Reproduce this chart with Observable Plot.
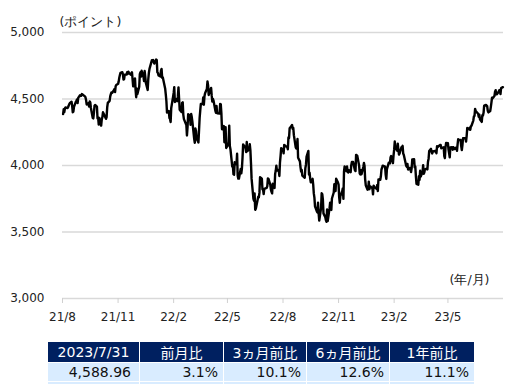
<!DOCTYPE html>
<html><head><meta charset="utf-8">
<script src="https://cdn.jsdelivr.net/npm/d3@7"></script>
<script src="https://cdn.jsdelivr.net/npm/@observablehq/plot@0.6"></script>
<style>
html,body{margin:0;padding:0;background:#fff;}
body{width:529px;height:387px;position:relative;overflow:hidden;font-family:"DejaVu Sans","Noto Sans CJK JP",sans-serif;}
#chart{position:absolute;left:0;top:0;}
#tbl{position:absolute;left:47px;top:341px;border-collapse:separate;border-spacing:1px 1px;font-size:14px;table-layout:fixed;width:428px;}
#tbl th{background:#002060;color:#fff;font-weight:normal;height:20px;padding:0;text-align:center;box-sizing:border-box;}
#tbl td{background:#d9ecff;color:#111;height:18px;padding:0 5px 0 0;text-align:right;box-sizing:border-box;}
#tbl td.first{padding-right:8px;}
#tbl tr.strip td{height:2px;line-height:2px;font-size:1px;padding:0;}
</style>
</head><body>
<div id="chart"></div>
<table id="tbl"><colgroup id="cols"></colgroup><tr id="hdr"></tr><tr id="vals"></tr><tr class="strip" id="strip"></tr></table>
<script>
// S&P 500 daily closes
const sp500 = [
["2021-08-02",4387],["2021-08-03",4423],["2021-08-04",4402],["2021-08-05",4429],["2021-08-06",4437],["2021-08-09",4432],["2021-08-10",4436],["2021-08-11",4447],["2021-08-12",4460],["2021-08-13",4468],["2021-08-16",4479],["2021-08-17",4448],["2021-08-18",4400],["2021-08-19",4405],["2021-08-20",4441],["2021-08-23",4479],["2021-08-24",4486],["2021-08-25",4496],["2021-08-26",4470],["2021-08-27",4509],["2021-08-30",4529],["2021-08-31",4523],
["2021-09-01",4524],["2021-09-02",4537],["2021-09-03",4535],["2021-09-07",4520],["2021-09-08",4514],["2021-09-09",4493],["2021-09-10",4459],["2021-09-13",4469],["2021-09-14",4443],["2021-09-15",4481],["2021-09-16",4474],["2021-09-17",4433],["2021-09-20",4358],["2021-09-21",4354],["2021-09-22",4396],["2021-09-23",4449],["2021-09-24",4455],["2021-09-27",4443],["2021-09-28",4353],["2021-09-29",4360],["2021-09-30",4308],
["2021-10-01",4357],["2021-10-04",4300],["2021-10-05",4346],["2021-10-06",4364],["2021-10-07",4400],["2021-10-08",4391],["2021-10-11",4361],["2021-10-12",4351],["2021-10-13",4364],["2021-10-14",4438],["2021-10-15",4471],["2021-10-18",4486],["2021-10-19",4520],["2021-10-20",4537],["2021-10-21",4549],["2021-10-22",4545],["2021-10-25",4567],["2021-10-26",4575],["2021-10-27",4552],["2021-10-28",4596],["2021-10-29",4605],
["2021-11-01",4614],["2021-11-02",4631],["2021-11-03",4660],["2021-11-04",4680],["2021-11-05",4697],["2021-11-08",4702],["2021-11-09",4685],["2021-11-10",4646],["2021-11-11",4649],["2021-11-12",4683],["2021-11-15",4683],["2021-11-16",4701],["2021-11-17",4689],["2021-11-18",4705],["2021-11-19",4698],["2021-11-22",4682],["2021-11-23",4691],["2021-11-24",4701],["2021-11-26",4595],["2021-11-29",4655],["2021-11-30",4567],
["2021-12-01",4513],["2021-12-02",4577],["2021-12-03",4538],["2021-12-06",4592],["2021-12-07",4687],["2021-12-08",4701],["2021-12-09",4668],["2021-12-10",4712],["2021-12-13",4669],["2021-12-14",4635],["2021-12-15",4710],["2021-12-16",4669],["2021-12-17",4621],["2021-12-20",4568],["2021-12-21",4649],["2021-12-22",4697],["2021-12-23",4726],["2021-12-27",4792],["2021-12-28",4786],["2021-12-29",4793],["2021-12-30",4778],["2021-12-31",4766],
["2022-01-03",4797],["2022-01-04",4794],["2022-01-05",4701],["2022-01-06",4696],["2022-01-07",4677],["2022-01-10",4670],["2022-01-11",4713],["2022-01-12",4726],["2022-01-13",4659],["2022-01-14",4663],["2022-01-18",4577],["2022-01-19",4533],["2022-01-20",4483],["2022-01-21",4398],["2022-01-24",4410],["2022-01-25",4357],["2022-01-26",4350],["2022-01-27",4327],["2022-01-28",4432],["2022-01-31",4516],
["2022-02-01",4546],["2022-02-02",4589],["2022-02-03",4477],["2022-02-04",4501],["2022-02-07",4484],["2022-02-08",4521],["2022-02-09",4587],["2022-02-10",4504],["2022-02-11",4419],["2022-02-14",4402],["2022-02-15",4471],["2022-02-16",4475],["2022-02-17",4381],["2022-02-18",4349],["2022-02-22",4305],["2022-02-23",4226],["2022-02-24",4288],["2022-02-25",4385],["2022-02-28",4374],
["2022-03-01",4306],["2022-03-02",4387],["2022-03-03",4364],["2022-03-04",4329],["2022-03-07",4201],["2022-03-08",4171],["2022-03-09",4278],["2022-03-10",4260],["2022-03-11",4204],["2022-03-14",4173],["2022-03-15",4263],["2022-03-16",4358],["2022-03-17",4412],["2022-03-18",4463],["2022-03-21",4462],["2022-03-22",4512],["2022-03-23",4457],["2022-03-24",4520],["2022-03-25",4543],["2022-03-28",4576],["2022-03-29",4632],["2022-03-30",4603],["2022-03-31",4530],
["2022-04-01",4546],["2022-04-04",4583],["2022-04-05",4525],["2022-04-06",4481],["2022-04-07",4500],["2022-04-08",4488],["2022-04-11",4413],["2022-04-12",4397],["2022-04-13",4447],["2022-04-14",4393],["2022-04-18",4391],["2022-04-19",4463],["2022-04-20",4460],["2022-04-21",4394],["2022-04-22",4272],["2022-04-25",4297],["2022-04-26",4175],["2022-04-27",4184],["2022-04-28",4288],["2022-04-29",4132],
["2022-05-02",4155],["2022-05-03",4175],["2022-05-04",4300],["2022-05-05",4147],["2022-05-06",4123],["2022-05-09",3991],["2022-05-10",4001],["2022-05-11",3935],["2022-05-12",3930],["2022-05-13",4024],["2022-05-16",4008],["2022-05-17",4088],["2022-05-18",3923],["2022-05-19",3901],["2022-05-20",3901],["2022-05-23",3974],["2022-05-24",3941],["2022-05-25",3979],["2022-05-26",4058],["2022-05-27",4158],["2022-05-31",4132],
["2022-06-01",4101],["2022-06-02",4177],["2022-06-03",4109],["2022-06-06",4121],["2022-06-07",4161],["2022-06-08",4116],["2022-06-09",4018],["2022-06-10",3901],["2022-06-13",3750],["2022-06-14",3735],["2022-06-15",3790],["2022-06-16",3667],["2022-06-17",3675],["2022-06-21",3765],["2022-06-22",3760],["2022-06-23",3796],["2022-06-24",3912],["2022-06-27",3901],["2022-06-28",3821],["2022-06-29",3819],["2022-06-30",3785],
["2022-07-01",3825],["2022-07-05",3832],["2022-07-06",3845],["2022-07-07",3903],["2022-07-08",3899],["2022-07-11",3855],["2022-07-12",3819],["2022-07-13",3802],["2022-07-14",3790],["2022-07-15",3863],["2022-07-18",3831],["2022-07-19",3937],["2022-07-20",3960],["2022-07-21",3999],["2022-07-22",3962],["2022-07-25",3967],["2022-07-26",3921],["2022-07-27",4024],["2022-07-28",4072],["2022-07-29",4130],
["2022-08-01",4119],["2022-08-02",4091],["2022-08-03",4155],["2022-08-04",4152],["2022-08-05",4145],["2022-08-08",4140],["2022-08-09",4122],["2022-08-10",4210],["2022-08-11",4207],["2022-08-12",4280],["2022-08-15",4297],["2022-08-16",4305],["2022-08-17",4275],["2022-08-18",4284],["2022-08-19",4228],["2022-08-22",4138],["2022-08-23",4128],["2022-08-24",4141],["2022-08-25",4199],["2022-08-26",4058],["2022-08-29",4031],["2022-08-30",3986],["2022-08-31",3955],
["2022-09-01",3967],["2022-09-02",3924],["2022-09-06",3908],["2022-09-07",3980],["2022-09-08",4006],["2022-09-09",4067],["2022-09-12",4110],["2022-09-13",3932],["2022-09-14",3946],["2022-09-15",3901],["2022-09-16",3873],["2022-09-19",3900],["2022-09-20",3856],["2022-09-21",3790],["2022-09-22",3758],["2022-09-23",3693],["2022-09-26",3655],["2022-09-27",3647],["2022-09-28",3720],["2022-09-29",3640],["2022-09-30",3586],
["2022-10-03",3679],["2022-10-04",3791],["2022-10-05",3784],["2022-10-06",3745],["2022-10-07",3640],["2022-10-10",3612],["2022-10-11",3589],["2022-10-12",3577],["2022-10-13",3670],["2022-10-14",3583],["2022-10-17",3677],["2022-10-18",3720],["2022-10-19",3695],["2022-10-20",3666],["2022-10-21",3752],["2022-10-24",3797],["2022-10-25",3860],["2022-10-26",3831],["2022-10-27",3808],["2022-10-28",3901],["2022-10-31",3872],
["2022-11-01",3856],["2022-11-02",3760],["2022-11-03",3720],["2022-11-04",3771],["2022-11-07",3807],["2022-11-08",3828],["2022-11-09",3749],["2022-11-10",3956],["2022-11-11",3993],["2022-11-14",3957],["2022-11-15",3992],["2022-11-16",3959],["2022-11-17",3947],["2022-11-18",3965],["2022-11-21",3950],["2022-11-22",4003],["2022-11-23",4027],["2022-11-25",4026],["2022-11-28",3964],["2022-11-29",3958],["2022-11-30",4080],
["2022-12-01",4077],["2022-12-02",4072],["2022-12-05",3999],["2022-12-06",3941],["2022-12-07",3933],["2022-12-08",3964],["2022-12-09",3934],["2022-12-12",3991],["2022-12-13",4019],["2022-12-14",3996],["2022-12-15",3896],["2022-12-16",3852],["2022-12-19",3818],["2022-12-20",3821],["2022-12-21",3879],["2022-12-22",3822],["2022-12-23",3845],["2022-12-27",3829],["2022-12-28",3783],["2022-12-29",3849],["2022-12-30",3840],
["2023-01-03",3824],["2023-01-04",3853],["2023-01-05",3808],["2023-01-06",3895],["2023-01-09",3893],["2023-01-10",3919],["2023-01-11",3970],["2023-01-12",3983],["2023-01-13",3999],["2023-01-17",3991],["2023-01-18",3929],["2023-01-19",3899],["2023-01-20",3972],["2023-01-23",4020],["2023-01-24",4017],["2023-01-25",4016],["2023-01-26",4060],["2023-01-27",4071],["2023-01-30",4018],["2023-01-31",4077],
["2023-02-01",4119],["2023-02-02",4180],["2023-02-03",4136],["2023-02-06",4111],["2023-02-07",4164],["2023-02-08",4118],["2023-02-09",4082],["2023-02-10",4090],["2023-02-13",4137],["2023-02-14",4136],["2023-02-15",4148],["2023-02-16",4090],["2023-02-17",4079],["2023-02-21",3997],["2023-02-22",3991],["2023-02-23",4012],["2023-02-24",3970],["2023-02-27",3982],["2023-02-28",3970],
["2023-03-01",3951],["2023-03-02",3981],["2023-03-03",4046],["2023-03-06",4048],["2023-03-07",3986],["2023-03-08",3992],["2023-03-09",3918],["2023-03-10",3862],["2023-03-13",3855],["2023-03-14",3920],["2023-03-15",3892],["2023-03-16",3960],["2023-03-17",3917],["2023-03-20",3952],["2023-03-21",4003],["2023-03-22",3937],["2023-03-23",3949],["2023-03-24",3971],["2023-03-27",3977],["2023-03-28",3971],["2023-03-29",4028],["2023-03-30",4051],["2023-03-31",4109],
["2023-04-03",4125],["2023-04-04",4101],["2023-04-05",4091],["2023-04-06",4105],["2023-04-10",4109],["2023-04-11",4108],["2023-04-12",4092],["2023-04-13",4146],["2023-04-14",4138],["2023-04-17",4151],["2023-04-18",4154],["2023-04-19",4155],["2023-04-20",4130],["2023-04-21",4133],["2023-04-24",4137],["2023-04-25",4071],["2023-04-26",4056],["2023-04-27",4136],["2023-04-28",4169],
["2023-05-01",4167],["2023-05-02",4120],["2023-05-03",4091],["2023-05-04",4061],["2023-05-05",4136],["2023-05-08",4138],["2023-05-09",4119],["2023-05-10",4138],["2023-05-11",4131],["2023-05-12",4124],["2023-05-15",4136],["2023-05-16",4110],["2023-05-17",4159],["2023-05-18",4198],["2023-05-19",4192],["2023-05-22",4193],["2023-05-23",4146],["2023-05-24",4116],["2023-05-25",4151],["2023-05-26",4205],["2023-05-30",4206],["2023-05-31",4180],
["2023-06-01",4221],["2023-06-02",4282],["2023-06-05",4273],["2023-06-06",4284],["2023-06-07",4268],["2023-06-08",4294],["2023-06-09",4299],["2023-06-12",4338],["2023-06-13",4369],["2023-06-14",4373],["2023-06-15",4426],["2023-06-16",4410],["2023-06-20",4389],["2023-06-21",4366],["2023-06-22",4382],["2023-06-23",4348],["2023-06-26",4328],["2023-06-27",4378],["2023-06-28",4377],["2023-06-29",4396],["2023-06-30",4450],
["2023-07-03",4455],["2023-07-05",4447],["2023-07-06",4411],["2023-07-07",4399],["2023-07-10",4410],["2023-07-11",4439],["2023-07-12",4473],["2023-07-13",4510],["2023-07-14",4505],["2023-07-17",4522],["2023-07-18",4555],["2023-07-19",4566],["2023-07-20",4535],["2023-07-21",4536],["2023-07-24",4555],["2023-07-25",4567],["2023-07-26",4566],["2023-07-27",4537],["2023-07-28",4582],["2023-07-31",4589]
];
const yTicks = [3000, 3500, 4000, 4500, 5000];
const xTickDates = ["2021-08-01","2021-11-01","2022-02-01","2022-05-01","2022-08-01","2022-11-01","2023-02-01","2023-05-01"];
const yLabel = "(ポイント)";
const xLabel = "(年/月)";
const tableHeaders = ["2023/7/31", "前月比", "3ヵ月前比", "6ヵ月前比", "1年前比"];
const tableValues = ["4,588.96", "3.1%", "10.1%", "12.6%", "11.1%"];
const colWidths = [91, 83, 82, 82, 84];

const parse = d3.utcParse("%Y-%m-%d");
const data = sp500.map(([d, v]) => ({date: parse(d), value: v}));
const xTicks = xTickDates.map(parse);

const chart = Plot.plot({
  width: 529,
  height: 330,
  marginLeft: 62,
  marginRight: 26,
  marginTop: 32,
  marginBottom: 32,
  style: {background: "#fff", fontFamily: "'DejaVu Sans', sans-serif", fontSize: "12px", color: "#222"},
  x: {type: "utc", domain: [parse("2021-08-01"), parse("2023-08-01")]},
  y: {domain: [3000, 5000]},
  marks: [
    Plot.ruleY(yTicks, {stroke: "#d9d9d9", strokeWidth: 1.5}),
    Plot.axisY({ticks: yTicks, tickSize: 0, tickPadding: 18, tickFormat: d3.format(",d"), label: null, fill: "#222"}),
    Plot.axisX({ticks: xTicks, tickSize: 5, tickPadding: 9, stroke: "#d0d0d0", fill: "#222", label: null,
      tickFormat: d => `${String(d.getUTCFullYear()).slice(2)}/${d.getUTCMonth() + 1}`}),
    Plot.line(data, {x: "date", y: "value", stroke: "#000", strokeWidth: 2.4, strokeLinejoin: "round"}),
    Plot.text([yLabel], {frameAnchor: "top-left", textAnchor: "start", dx: -3, dy: -15, fill: "#222", fontSize: 12.5}),
    Plot.text([xLabel], {frameAnchor: "bottom-right", textAnchor: "end", dx: -14, dy: -15, fill: "#222", fontSize: 12.5})
  ]
});
document.getElementById("chart").appendChild(chart);

const cols = document.getElementById("cols");
const hdr = document.getElementById("hdr");
const vals = document.getElementById("vals");
const strip = document.getElementById("strip");
tableHeaders.forEach((h, i) => {
  const col = document.createElement("col");
  col.style.width = colWidths[i] + "px";
  cols.appendChild(col);
  const th = document.createElement("th");
  th.textContent = h;
  hdr.appendChild(th);
  const td = document.createElement("td");
  td.textContent = tableValues[i];
  if (i === 0) td.className = "first";
  vals.appendChild(td);
  const ts = document.createElement("td");
  strip.appendChild(ts);
});
</script>
</body></html>
